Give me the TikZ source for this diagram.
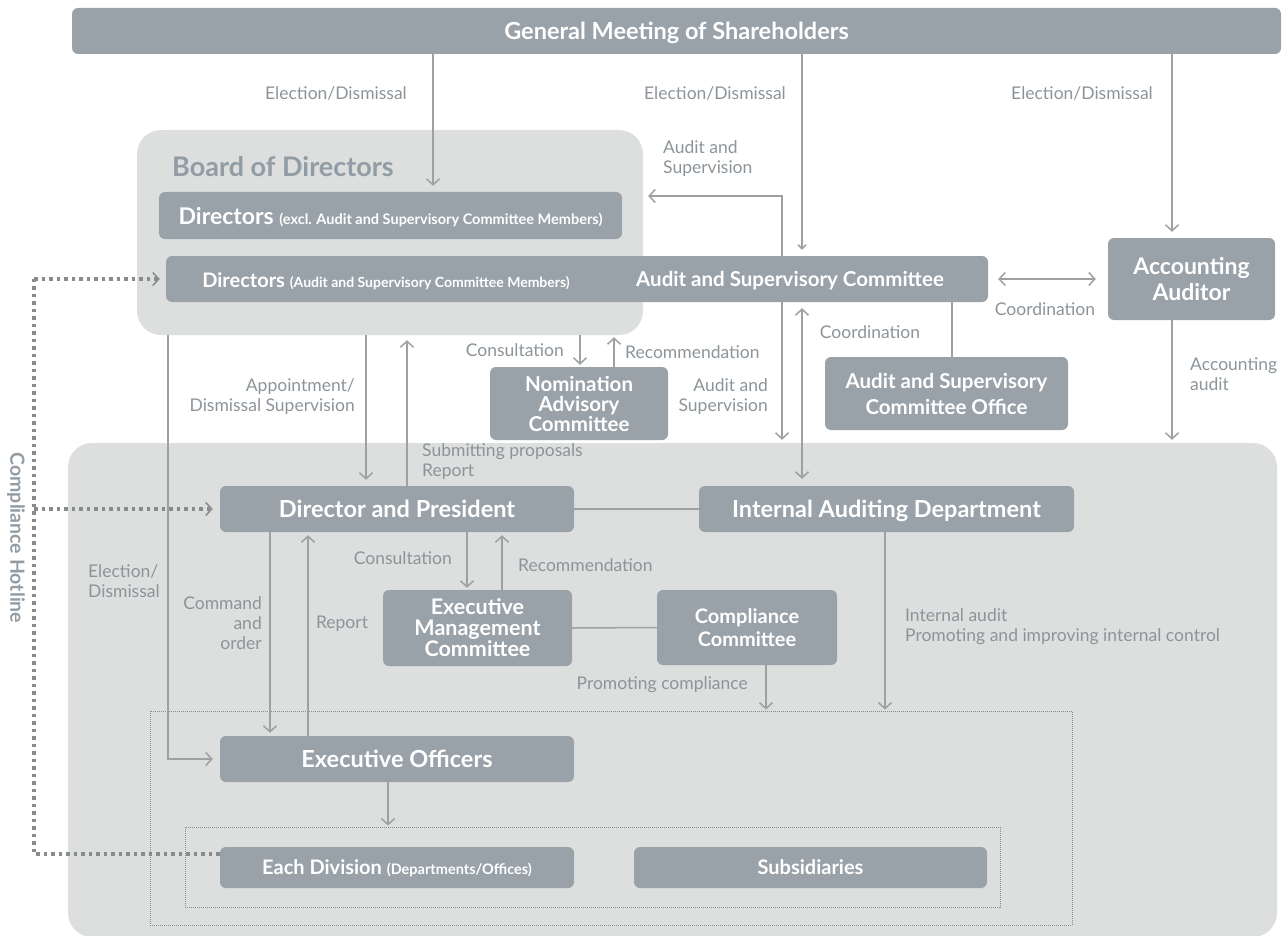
\documentclass[tikz,border=0pt]{standalone}
\usepackage{fontspec}
\setmainfont{Lato}
\usetikzlibrary{arrows.meta,positioning}
\definecolor{boxgray}{RGB}{152,162,168}
\definecolor{bggray}{RGB}{221,222,222}
\definecolor{lblgray}{RGB}{140,148,153}
\definecolor{arrgray}{RGB}{158,160,162}
\definecolor{hotgray}{RGB}{135,139,142}
\definecolor{titlegray}{RGB}{145,156,164}
\begin{document}
\begin{tikzpicture}[x=1pt,y=-1pt,
 unit/.style ={rectangle,rounded corners=6pt,fill=boxgray,text=white,inner sep=0pt,
   font=\fontsize{23.5}{24}\selectfont\bfseries,align=center},
 oneline/.style ={text depth=0pt},
 area/.style ={rectangle,rounded corners=24pt,fill=bggray,inner sep=0pt},
 group/.style ={rectangle,draw=hotgray,line width=0.8pt,dash pattern=on 1pt off 1pt,inner sep=0pt},
 lbl/.style ={text=lblgray,inner sep=0pt,font=\fontsize{17.5}{20}\selectfont},
 arr/.style ={-{Straight Barb[length=6pt,width=13pt]},draw=arrgray,line width=1.5pt},
 biarr/.style ={{Straight Barb[length=6pt,width=13pt]}-{Straight Barb[length=6pt,width=13pt]},draw=arrgray,line width=1.5pt},
 link/.style ={-,draw=arrgray,line width=1.5pt},
 hotline/.style ={draw=hotgray,line width=3.2pt,dash pattern=on 3.5pt off 4pt}
 ]
\useasboundingbox (0,0) rectangle (1287,936);
%draw background areas
\node[area,minimum width=506pt,minimum height=205pt] (board) at (390,232.5) {};
\node[area,minimum width=1209pt,minimum height=494pt] (lower) at (672.5,690) {};
\node[text=titlegray,inner sep=0pt,anchor=west,font=\fontsize{27}{30}\selectfont\bfseries] (boardtitle) at (172,167) {Board of Directors};
%draw dotted groups
\node[group,minimum width=922pt,minimum height=214pt] (outer) at (611,818) {};
\node[group,minimum width=815pt,minimum height=80pt] (inner) at (592.5,867) {};
%draw units
\node[unit,oneline,minimum width=1209pt,minimum height=46pt] (gm) at (676.5,31) {General Meeting of Shareholders};
\node[unit,oneline,minimum width=463pt,minimum height=47pt,font=\fontsize{23}{24}\selectfont\bfseries] (dirx) at (390.5,215.5)
 {Directors {\fontsize{14.5}{15}\selectfont (excl. Audit and Supervisory Committee Members)}};
\node[unit,minimum width=822pt,minimum height=46pt] (acbox) at (577,279) {};
\node[text=white,inner sep=0pt,font=\fontsize{20}{22}\selectfont\bfseries] (dira) at (386,281)
 {Directors {\fontsize{14}{15}\selectfont (Audit and Supervisory Committee Members)}};
\node[text=white,inner sep=0pt,font=\fontsize{20.5}{22}\selectfont\bfseries] (asc) at (790,281) {Audit and Supervisory Committee};
\node[unit,minimum width=167pt,minimum height=82pt,font=\fontsize{23}{26}\selectfont\bfseries] (aa) at (1191.5,279) {Accounting\\Auditor};
\node[unit,minimum width=243pt,minimum height=73pt,font=\fontsize{20.5}{26}\selectfont\bfseries] (asco) at (946.5,393.5) {Audit and Supervisory\\Committee Office};
\node[unit,minimum width=178pt,minimum height=73pt,font=\fontsize{20.5}{20}\selectfont\bfseries] (nac) at (579,403.5) {Nomination\\Advisory\\Committee};
\node[unit,oneline,minimum width=354pt,minimum height=46pt] (dp) at (397,509) {Director and President};
\node[unit,oneline,minimum width=375pt,minimum height=46pt] (iad) at (886.5,509) {Internal Auditing Department};
\node[unit,minimum width=189pt,minimum height=76pt,font=\fontsize{21.5}{21}\selectfont\bfseries] (emc) at (477.5,628) {Executive\\Management\\Committee};
\node[unit,minimum width=180pt,minimum height=75pt,font=\fontsize{20}{23}\selectfont\bfseries] (cc) at (747,627.5) {Compliance\\Committee};
\node[unit,oneline,minimum width=354pt,minimum height=46pt] (eo) at (397,759) {Executive Officers};
\node[unit,oneline,minimum width=354pt,minimum height=41pt,font=\fontsize{20}{20}\selectfont\bfseries] (ed) at (397,867.5)
 {Each Division {\fontsize{14.5}{15}\selectfont (Departments/Offices)}};
\node[unit,oneline,minimum width=353pt,minimum height=41pt,font=\fontsize{20}{20}\selectfont\bfseries] (sub) at (810.5,867.5) {Subsidiaries};
%columns of the connectors
\coordinate (c168) at (168,0);
\coordinate (c270) at (270,0);
\coordinate (c308) at (308,0);
\coordinate (c366) at (366,0);
\coordinate (c388) at (388,0);
\coordinate (c407) at (407,0);
\coordinate (c433) at (433,0);
\coordinate (c467) at (467,0);
\coordinate (c502) at (502,0);
\coordinate (c580) at (580,0);
\coordinate (c614) at (614,0);
\coordinate (c766) at (766,0);
\coordinate (c782) at (782,0);
\coordinate (c802) at (802,0);
\coordinate (c885) at (885,0);
\coordinate (c952) at (952,0);
\coordinate (c1172) at (1172,0);
\coordinate (hl) at (34,0);
\coordinate (asup) at (782,196);
\coordinate (hlend) at (34,854);
%draw election and dismissal
\draw[arr,shorten >=6pt] (gm.south -| c433) -- (dirx.north -| c433);
\draw[arr,shorten >=6pt,-{Straight Barb[length=4pt,width=8pt]}] (gm.south -| c802) -- (acbox.north -| c802);
\draw[arr,shorten >=6pt] (gm.south -| c1172) -- (aa.north -| c1172);
\node[lbl] (el1) at (336,93) {Election/Dismissal};
\node[lbl] (el2) at (715,93) {Election/Dismissal};
\node[lbl] (el3) at (1082,93) {Election/Dismissal};
%draw audit committee connectors
\draw[arr,shorten >=5pt] (acbox.north -| asup) -- (asup) -- (board.east |- asup);
\node[lbl,anchor=west,align=left] (au1) at (663,159) {Audit and\\Supervision};
\draw[biarr,shorten <=10pt,shorten >=12pt] (acbox.east) -- (aa.west);
\node[lbl] (co1) at (1045,309) {Coordination};
\draw[link] (acbox.south -| c952) -- (asco.north -| c952);
\node[lbl] (co2) at (870,332) {Coordination};
\draw[arr,shorten >=3pt] (aa.south -| c1172) -- (lower.north -| c1172);
\node[lbl,anchor=west,align=left] (acc) at (1190,374) {Accounting\\audit};
\draw[arr,shorten >=3pt] (acbox.south -| c782) -- (lower.north -| c782);
\node[lbl,anchor=east,align=right] (au2) at (768,397) {Audit and\\Supervision};
\draw[biarr,shorten <=6pt,shorten >=7pt] (acbox.south -| c802) -- (iad.north -| c802);
%draw board connectors
\draw[arr,shorten >=6pt] (board.south -| c366) -- (dp.north -| c366);
\draw[arr,shorten >=5pt] (dp.north -| c407) -- (board.south -| c407);
\node[lbl,anchor=east,align=right] (app) at (355,397) {Appointment/\\Dismissal Supervision};
\node[lbl,anchor=west,align=left] (sub1) at (422,462) {Submitting proposals\\Report};
\draw[arr,shorten >=2pt] (board.south -| c580) -- (nac.north -| c580);
\draw[arr,shorten >=2pt] (nac.north -| c614) -- (board.south -| c614);
\node[lbl,anchor=east] (cons1) at (564,350) {Consultation};
\node[lbl,anchor=west] (rec1) at (625,352) {Recommendation};
\draw[arr,shorten >=7pt] (board.south -| c168) -- (eo.west -| c168) -- (eo.west);
\node[lbl,anchor=west,align=left] (el4) at (88,581) {Election/\\Dismissal};
%draw executive connectors
\draw[link] (dp.east) -- (iad.west);
\draw[arr,shorten >=3pt] (dp.south -| c270) -- (eo.north -| c270);
\node[lbl,anchor=east,align=right] (cmd) at (262,623) {Command\\and\\order};
\draw[arr,shorten >=3pt] (eo.north -| c308) -- (dp.south -| c308);
\node[lbl] (rep) at (342,624) {Report};
\draw[arr,shorten >=2pt] (dp.south -| c467) -- (emc.north -| c467);
\draw[arr,shorten >=3pt] (emc.north -| c502) -- (dp.south -| c502);
\node[lbl,anchor=east] (cons2) at (452,558) {Consultation};
\node[lbl,anchor=west] (rec2) at (518,565) {Recommendation};
\draw[link] (emc.east) -- (cc.west);
\draw[arr,shorten >=1pt] (cc.south -| c766) -- (outer.north -| c766);
\node[lbl,anchor=east] (prom) at (748,685) {Promoting compliance};
\draw[arr,shorten >=1pt] (iad.south -| c885) -- (outer.north -| c885);
\node[lbl,anchor=west,align=left] (ia) at (905,627) {Internal audit\\Promoting and improving internal control};
\draw[arr,shorten >=1pt] (eo.south -| c388) -- (inner.north -| c388);
%draw compliance hotline
\draw[hotline] (ed.west |- hlend) -- (hlend) -- (acbox.west -| hl);
\draw[hotline,-{Straight Barb[length=6pt,width=13pt,line width=1.5pt]},shorten >=6pt] (acbox.west -| hl) -- (acbox.west);
\draw[hotline,-{Straight Barb[length=6pt,width=13pt,line width=1.5pt]},shorten >=7pt] (dp.west -| hl) -- (dp.west);
\node[text=titlegray,inner sep=0pt,rotate=-90,font=\fontsize{19.5}{22}\selectfont\bfseries] (hot) at (16,538) {Compliance Hotline};
\end{tikzpicture}
\end{document}
